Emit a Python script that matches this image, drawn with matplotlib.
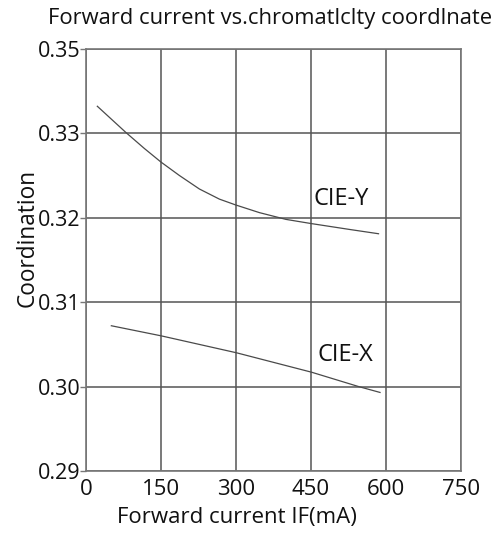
import matplotlib
matplotlib.use("Agg")
import matplotlib.pyplot as plt

plt.rcParams['font.family'] = ['Open Sans', 'DejaVu Sans']

# forward current (mA) vs chromaticity coordinate
cie_y_current = [23, 80, 117, 150, 187, 227, 267, 300, 347, 400, 451, 528, 585]
cie_y_value = [0.3332, 0.3301, 0.3282, 0.3266, 0.3250, 0.3234, 0.3222, 0.3215,
               0.3206, 0.3198, 0.3193, 0.3186, 0.3181]

cie_x_current = [51, 151, 301, 451, 545, 588]
cie_x_value = [0.3072, 0.3060, 0.3040, 0.3017, 0.3000, 0.2993]

x_ticks = [0, 150, 300, 450, 600, 750]
y_ticks = [0.29, 0.30, 0.31, 0.32, 0.33, 0.34]
y_tick_labels = ['0.29', '0.30', '0.31', '0.32', '0.33', '0.35']

fig = plt.figure(figsize=(4.99, 5.37), dpi=100)
ax = fig.add_axes([0.172, 0.123, 0.752, 0.786])

line_c = '#4a4a4a'
ax.plot(cie_y_current, cie_y_value, color=line_c, lw=0.9)
ax.plot(cie_x_current, cie_x_value, color=line_c, lw=0.9)
ax.text(511, 0.3222, 'CIE-Y', fontsize=17, ha='center', va='center', color='#111')
ax.text(519, 0.3037, 'CIE-X', fontsize=17, ha='center', va='center', color='#111')

ax.set_xlim(0, 750)
ax.set_ylim(0.29, 0.34)
ax.set_xticks(x_ticks)
ax.set_yticks(y_ticks)
ax.set_yticklabels(y_tick_labels)
ax.grid(True, color='#555555', lw=1.1)
ax.set_axisbelow(True)
for s in ax.spines.values():
    s.set_color('#777777')
    s.set_linewidth(1.2)
ax.tick_params(axis='x', length=0, pad=6, labelsize=16, colors='#111')
ax.tick_params(axis='y', length=4, width=1, color='#777777', pad=0, labelsize=15.5, labelcolor='#111')

ax.set_xlabel('Forward current IF(mA)', fontsize=16, color='#111')
ax.xaxis.set_label_coords(0.403, -0.085)
ax.set_ylabel('Coordination', fontsize=16.3, color='#111')
ax.yaxis.set_label_coords(-0.123, 0.553)
fig.text(0.541, 0.966, 'Forward current vs.chromatlclty coordlnate', fontsize=15.8,
         ha='center', va='center', color='#111')

fig.savefig('out.png', dpi=100)
